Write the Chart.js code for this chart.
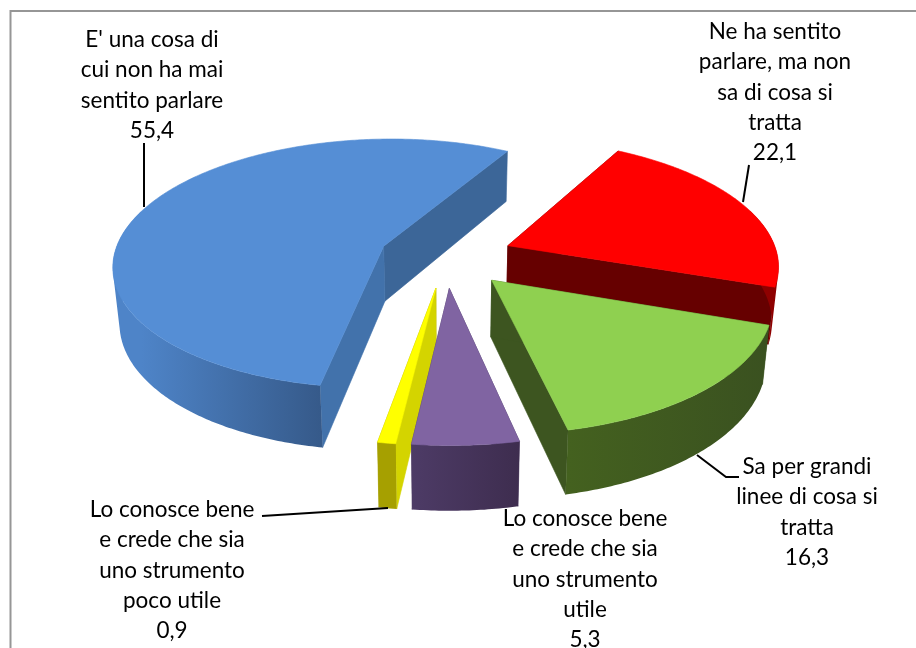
<!DOCTYPE html>
<html>
<head>
<meta charset="utf-8">
<style>html,body{margin:0;padding:0;background:#fff;overflow:hidden}canvas{display:block}</style>
<script src="https://cdn.jsdelivr.net/npm/chart.js@4/dist/chart.umd.min.js"></script>
</head>
<body>
<canvas id="c" width="916" height="648"></canvas>
<script>
const categories = [
  ["E' una cosa di", "cui non ha mai", "sentito parlare"],
  ["Ne ha sentito", "parlare, ma non", "sa di cosa si", "tratta"],
  ["Sa per grandi", "linee di cosa si", "tratta"],
  ["Lo conosce bene", "e crede che sia", "uno strumento", "utile"],
  ["Lo conosce bene", "e crede che sia", "uno strumento", "poco utile"]
];
const values = [55.4, 22.1, 16.3, 5.3, 0.9];
const topColors = ["#558ed5", "#ff0000", "#8fd050", "#8064a2", "#ffff00"];
const startFaceColors = ["#4272ab", "#660000", "#3d5520", "#46345c", "#d4d400"];
const endFaceColors = ["#3c6698", "#660000", "#3d5520", "#46345c", "#a6a000"];
const rimStart = ["#365a8a", "#8e0000", "#3a5120", "#3e2d4f", "#a6a000"];
const rimEnd = ["#4e84c8", "#8e0000", "#44611f", "#4d3b66", "#a6a000"];
const paintOrder = [1, 0, 4, 3, 2];
const labelCenters = [[152,40],[775,32],[807,467],[585,519],[172,510]];
const leaderList = [
  [[144,143],[144,207]],
  [[749,165],[743,202]],
  [[697,455],[726,477],[739,477]],
  [[262,516],[388,508]]
];
const VIEW = {cx:446, cy:256.5, a:0.4626, b:0.00052, shrink:0.98};

function project(u, v) {
  const s = 1 / (1 - VIEW.b * v);
  return [VIEW.cx + u * s, VIEW.cy + VIEW.a * v * s];
}
function drop(p) {
  const d = 50 + (p[1] - 150) * 15 / 290;
  return [VIEW.cx + (p[0] - VIEW.cx) * VIEW.shrink, p[1] + d];
}
function tracePoly(ctx, pts) {
  pts.forEach((p,i)=> i?ctx.lineTo(p[0],p[1]):ctx.moveTo(p[0],p[1]));
  ctx.closePath();
}
function poly(ctx, pts, col) {
  ctx.beginPath();
  tracePoly(ctx, pts);
  ctx.fillStyle = col; ctx.strokeStyle = col; ctx.lineWidth = 0.6;
  ctx.fill(); ctx.stroke();
}
function area(q) {
  let s = 0;
  q.forEach((p,i)=>{const r=q[(i+1)%q.length]; s += p[0]*r[1]-r[0]*p[1];});
  return s;
}
function drawSlice(ctx, arc, i) {
  const p = arc.getProps(['startAngle','endAngle','outerRadius']);
  const off = arc.options.offset;
  const mid = (p.startAngle + p.endAngle) / 2;
  const ou = Math.cos(mid) * off, ov = Math.sin(mid) * off;
  const pt = a => project(ou + Math.cos(a)*p.outerRadius, ov + Math.sin(a)*p.outerRadius);
  const apex = project(ou, ov);
  const sweep = p.endAngle - p.startAngle;
  const n = Math.max(2, Math.ceil(sweep / 0.012));
  const outer = [], visible = [];
  for (let k=0;k<=n;k++) {
    const a = p.startAngle + sweep*k/n, q = pt(a);
    outer.push(q);
    if (Math.sin(a) > -0.3) visible.push(q);
  }
  poly(ctx, [apex, outer[n], drop(outer[n]), drop(apex)], endFaceColors[i]);
  poly(ctx, [apex, outer[0], drop(outer[0]), drop(apex)], startFaceColors[i]);
  if (visible.length > 1) {
    const a0 = visible[0], a1 = visible[visible.length-1];
    const g = ctx.createLinearGradient(a0[0], 0, a1[0], 0);
    g.addColorStop(0, rimStart[i]); g.addColorStop(1, rimEnd[i]);
    ctx.beginPath();
    for (let k=0;k<visible.length-1;k++) {
      const q = [visible[k], visible[k+1], drop(visible[k+1]), drop(visible[k])];
      tracePoly(ctx, area(q) < 0 ? q.reverse() : q);
    }
    ctx.fillStyle = g;
    ctx.fill('nonzero');
  }
  poly(ctx, [apex, ...outer], topColors[i]);
}

const pie3d = {
  id: 'pie3d',
  beforeDraw(chart) {
    const ctx = chart.ctx;
    ctx.save();
    ctx.strokeStyle = '#969696'; ctx.lineWidth = 2;
    ctx.strokeRect(10.5, 11, 930, 660);
    ctx.restore();
  },
  beforeDatasetsDraw(chart) {
    const ctx = chart.ctx, arcs = chart.getDatasetMeta(0).data;
    ctx.save(); ctx.lineJoin = 'round';
    paintOrder.forEach(i => drawSlice(ctx, arcs[i], i));
    ctx.restore();
    return false;
  },
  afterDraw(chart) {
    const ctx = chart.ctx;
    ctx.save();
    ctx.strokeStyle = '#000'; ctx.lineWidth = 2;
    leaderList.forEach(l => {
      ctx.beginPath();
      l.forEach((q,i)=> i?ctx.lineTo(q[0],q[1]):ctx.moveTo(q[0],q[1]));
      ctx.stroke();
    });
    ctx.fillStyle = '#000';
    ctx.font = '22.5px Lato';
    ctx.textAlign = 'center'; ctx.textBaseline = 'middle';
    chart.data.labels.forEach((lines,i) => {
      const [x,y] = labelCenters[i];
      const all = [...lines, String(chart.data.datasets[0].data[i]).replace('.',',')];
      all.forEach((t,k)=>ctx.fillText(t, x, y + k*30.2));
    });
    ctx.restore();
  }
};

new Chart(document.getElementById('c'), {
  type: 'pie',
  data: { labels: categories, datasets: [{ data: values, backgroundColor: topColors, borderWidth: 0, offset: 67 }] },
  options: {
    responsive: false, animation: false,
    rotation: 190,
    radius: 270,
    plugins: { legend: {display:false}, tooltip: {enabled:false} },
    events: []
  },
  plugins: [pie3d]
});
</script>
</body>
</html>
